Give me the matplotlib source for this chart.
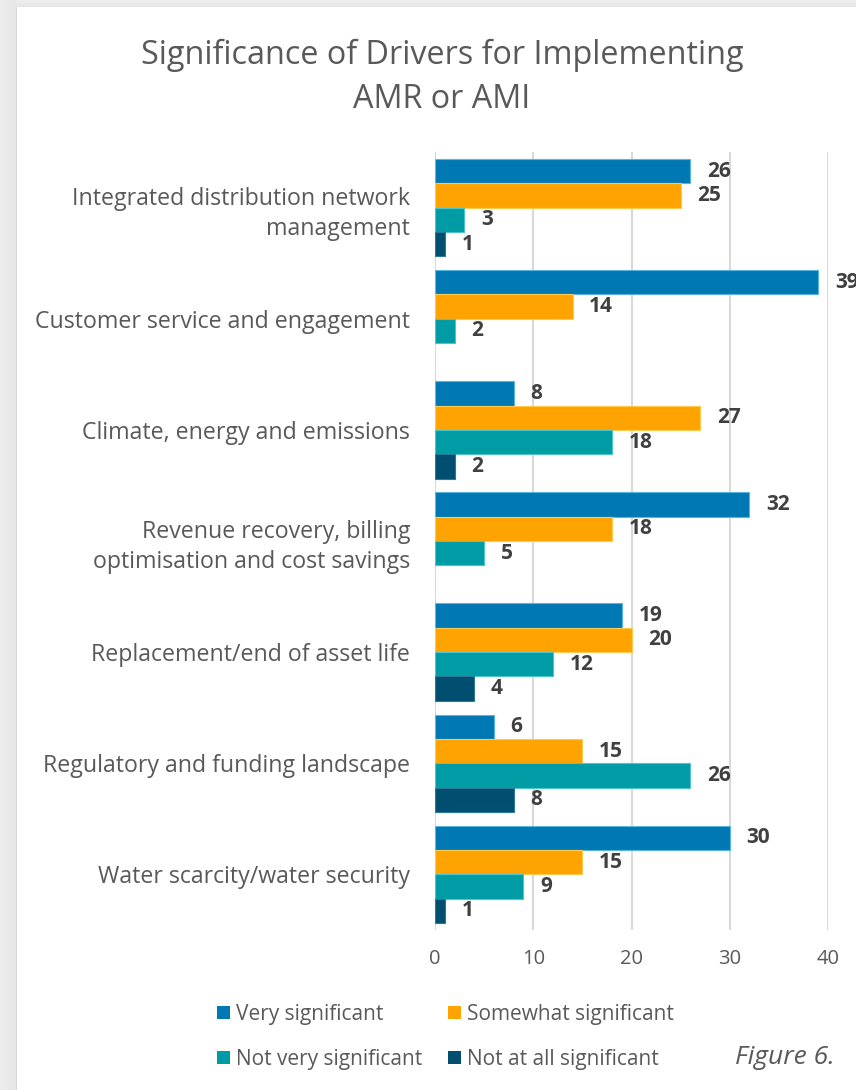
import matplotlib
matplotlib.use("Agg")
import matplotlib.pyplot as plt
import numpy as np
from matplotlib.patches import Patch

categories = [
    "Integrated distribution network\nmanagement",
    "Customer service and engagement",
    "Climate, energy and emissions",
    "Revenue recovery, billing\noptimisation and cost savings",
    "Replacement/end of asset life",
    "Regulatory and funding landscape",
    "Water scarcity/water security",
]
series_names = ["Very significant", "Somewhat significant",
                "Not very significant", "Not at all significant"]
very_significant = [26, 39, 8, 32, 19, 6, 30]
somewhat_significant = [25, 14, 27, 18, 20, 15, 15]
not_very_significant = [3, 2, 18, 5, 12, 26, 9]
not_at_all_significant = [1, 0, 2, 0, 4, 8, 1]
x_ticks = [0, 10, 20, 30, 40]

series = [very_significant, somewhat_significant,
          not_very_significant, not_at_all_significant]
colors = ["#0078B4", "#FFA300", "#009CA6", "#004E70"]
edge_colors = ["#5AB4E0", "#FFC94D", "#4CC4CC", "#2A7896"]

plt.rcParams["font.family"] = ["Open Sans", "DejaVu Sans"]
TXT = "#595959"

W, H = 856, 1090
fig = plt.figure(figsize=(W / 100, H / 100), dpi=100)
fig.patch.set_facecolor("white")

# background shadow frame
bg = fig.add_axes([0, 0, 1, 1], zorder=-10)
img = np.ones((H, W, 3))
left = 16
top = 7
for i in range(left):
    v = 0.93 - 0.03 * (i / left)
    img[:, i, :] = v
for j in range(top):
    v = 0.93 - 0.03 * (j / top)
    img[j, left:, :] = np.minimum(img[j, left:, :], v)
img[top:, left, :] = 0.85
bg.imshow(img, aspect="auto", extent=[0, W, H, 0], interpolation="nearest")
bg.set_axis_off()

ax_left, ax_right = 435, 828
ax_top, ax_bot = 152, 930
ax = fig.add_axes([ax_left / W, 1 - ax_bot / H, (ax_right - ax_left) / W,
                   (ax_bot - ax_top) / H])
ax.set_facecolor("none")

n = len(categories)
h = 0.219
y = np.arange(n)
for i, vals in enumerate(series):
    vals = np.asarray(vals)
    ypos = y + (i - 1.5) * h
    nz = vals > 0
    ax.barh(ypos[nz], vals[nz], height=h, color=colors[i],
            edgecolor=edge_colors[i], linewidth=0.8, zorder=3,
            label=series_names[i])
    for yy, v in zip(ypos[nz], vals[nz]):
        ax.annotate(str(v), xy=(v, yy), xytext=(12, 0),
                    textcoords="offset points", va="center", ha="left",
                    fontsize=15, fontweight="bold", color="#404040",
                    annotation_clip=False, zorder=4)

ax.set_xlim(0, 40)
ax.set_ylim(n - 0.5, -0.5)
ax.set_xticks(x_ticks)
ax.set_xticklabels([str(t) for t in x_ticks])
ax.set_yticks(y)
ax.set_yticklabels(categories, fontsize=16.7, color=TXT, ha="right",
                   multialignment="right", linespacing=1.35)
ax.tick_params(axis="y", length=0, pad=18)
ax.tick_params(axis="x", length=0, pad=14, labelsize=14.5, labelcolor=TXT)
ax.grid(axis="x", color="#D9D9D9", linewidth=1.5, zorder=0)
for s in ax.spines.values():
    s.set_visible(False)

fig.text(442 / W, 1 - 55 / H, "Significance of Drivers for Implementing",
         ha="center", va="center", fontsize=23.3, color=TXT)
fig.text(442 / W, 1 - 100 / H, "AMR or AMI",
         ha="center", va="center", fontsize=23.3, color=TXT)

order = [0, 2, 1, 3]
handles = [Patch(facecolor=colors[k], edgecolor="none") for k in order]
labels = [series_names[k] for k in order]
fig.legend(handles, labels, ncol=2, loc="center left",
           bbox_to_anchor=(207 / W, 1 - 1037 / H), frameon=False,
           fontsize=15, labelcolor=TXT, handlelength=0.6, handleheight=0.6,
           handletextpad=0.3, columnspacing=1.25, labelspacing=1.15,
           borderpad=0)

fig.text(835 / W, 1 - 1058 / H, "Figure 6.", ha="right", va="center",
         fontsize=19, style="italic", color=TXT)

fig.savefig("out.png", dpi=100, facecolor=fig.get_facecolor())
